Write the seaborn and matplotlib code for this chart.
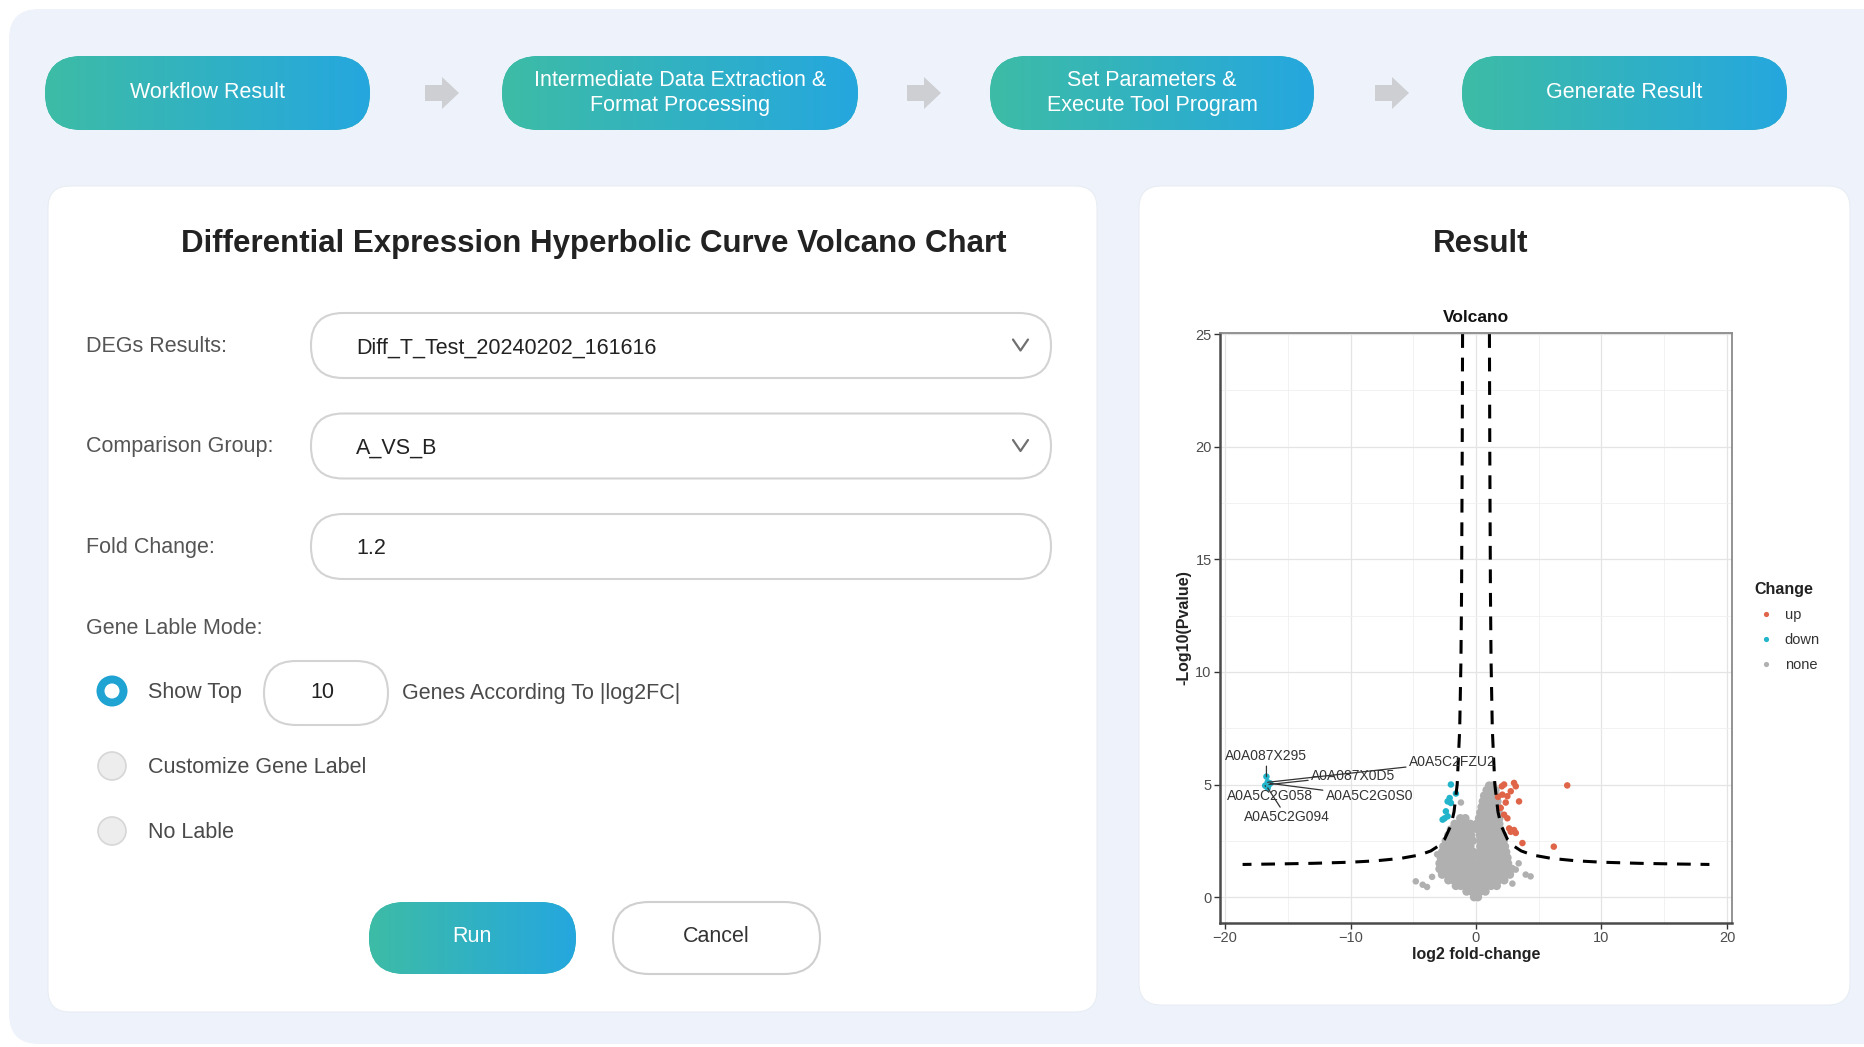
import numpy as np
import pandas as pd
import matplotlib
matplotlib.use("Agg")
import matplotlib.pyplot as plt
from matplotlib.patches import FancyBboxPatch, Circle, Polygon
from matplotlib.colors import LinearSegmentedColormap
import seaborn as sns

W, H = 1865, 1047

# --- Volcano data ---
up_fc = [2.06, 2.24, 3.03, 3.17, 2.77, 2.5, 3.43, 2.37, 1.97, 2.24, 2.5, 2.64, 3.03, 2.77, 3.17, 3.7, 6.2, 7.27, 1.75, 2.1]
up_p = [4.92, 5.0, 5.07, 4.92, 4.7, 4.48, 4.25, 4.2, 3.96, 3.66, 3.5, 3.05, 2.98, 2.9, 2.85, 2.4, 2.24, 4.96, 4.45, 4.55]

down_fc = [-2.0, -1.6, -2.1, -2.26, -2.0, -2.4, -2.5, -2.66, -2.26,
           -16.7, -16.6, -16.5, -16.8, -16.4, -16.6]
down_p = [5.0, 4.6, 4.4, 4.25, 4.18, 3.81, 3.5, 3.44, 3.59,
          5.35, 5.1, 5.0, 4.95, 5.05, 4.85]

# grey cloud, one list of log2FC values per -log10(p) row
none_rows_p = [0.0, 0.25, 0.5, 0.75, 1.0, 1.25, 1.5, 1.75, 2.0, 2.25, 2.5, 2.75,
               3.0, 3.25, 3.5, 3.75, 4.0, 4.25, 4.5, 4.75, 4.95]
none_rows_fc = [
    [-0.15, 0.15],
    [-0.75, -0.35, 0.0, 0.35, 0.75],
    [-1.6, -1.2, -0.8, -0.4, 0.0, 0.4, 0.8, 1.2, 1.65],
    [-2.2, -1.8, -1.35, -0.9, -0.45, 0.0, 0.45, 0.9, 1.35, 1.8, 2.25],
    [-2.7, -2.25, -1.8, -1.35, -0.9, -0.45, 0.0, 0.45, 0.9, 1.35, 1.8, 2.25, 2.7],
    [-2.9, -2.45, -2.0, -1.55, -1.1, -0.65, -0.2, 0.3, 0.75, 1.2, 1.65, 2.1, 2.55, 2.85],
    [-2.9, -2.45, -2.0, -1.55, -1.1, -0.65, -0.25, 0.3, 0.75, 1.2, 1.65, 2.1, 2.55],
    [-2.8, -2.35, -1.9, -1.45, -1.0, -0.55, -0.2, 0.35, 0.8, 1.25, 1.7, 2.1, 2.5],
    [-2.7, -2.25, -1.8, -1.35, -0.9, -0.5, -0.2, 0.35, 0.8, 1.25, 1.7, 2.1, 2.4],
    [-2.6, -2.15, -1.7, -1.25, -0.8, -0.45, 0.35, 0.8, 1.25, 1.7, 2.05, 2.3],
    [-2.4, -1.95, -1.5, -1.05, -0.6, -0.25, 0.35, 0.8, 1.25, 1.7, 2.2],
    [-2.2, -1.75, -1.3, -0.85, -0.4, 0.3, 0.75, 1.2, 1.65, 2.15],
    [-2.0, -1.6, -1.15, -0.7, -0.35, 0.15, 0.6, 1.05, 1.5, 1.95],
    [-1.7, -1.25, -0.8, -0.45, 0.05, 0.5, 0.95, 1.4, 1.85],
    [-1.25, -0.85, 0.25, 0.65, 1.05, 1.45, 1.85],
    [0.35, 0.75, 1.15, 1.55, 1.8],
    [0.45, 0.85, 1.25, 1.6, 1.75],
    [0.55, 0.95, 1.3, 1.7],
    [0.65, 1.0, 1.35, 1.65],
    [0.85, 1.2, 1.55],
    [1.05, 1.35],
]
none_extra_fc = [-4.8, -4.25, -3.9, -3.5, 3.96, 4.35, 3.17, 3.4, -1.2, -0.94, -3.1, 2.9]
none_extra_p = [0.7, 0.55, 0.45, 0.9, 1.0, 0.92, 1.22, 1.5, 4.2, 3.4, 1.9, 0.6]

# hyperbolic threshold curve (right half, mirrored for the left)
curve_fc = [1.07, 1.1, 1.15, 1.2, 1.3, 1.5, 1.75, 2.0, 2.5, 3.0, 3.6, 4.5, 6, 8, 10, 13, 16, 18.6]
curve_p = [25, 19.65, 13.55, 10.5, 7.45, 5.0, 3.79, 3.18, 2.57, 2.27, 2.05, 1.87, 1.72, 1.61, 1.55, 1.5, 1.47, 1.45]

# labelled genes: point and label position
gene_names = ["A0A087X295", "A0A5C2FZU2", "A0A087X0D5", "A0A5C2G058", "A0A5C2G0S0", "A0A5C2G094"]
gene_fc = [-16.7, -16.6, -16.5, -16.8, -16.4, -16.6]
gene_p = [5.35, 5.1, 5.0, 4.95, 5.05, 4.85]
gene_lab_fc = [-16.7, -1.9, -9.8, -16.4, -8.5, -15.1]
gene_lab_p = [6.25, 6.0, 5.4, 4.48, 4.48, 3.56]

# --- UI texts ---
steps = ["Workflow Result", "Intermediate Data Extraction &\nFormat Processing",
         "Set Parameters &\nExecute Tool Program", "Generate Result"]
form_labels = ["DEGs Results:", "Comparison Group:", "Fold Change:"]
form_values = ["Diff_T_Test_20240202_161616", "A_VS_B", "1.2"]
radio_labels = ["Show Top", "Customize Gene Label", "No Lable"]

FONT = ["Liberation Sans", "DejaVu Sans"]
plt.rcParams["font.family"] = FONT

fig = plt.figure(figsize=(W / 100, H / 100), dpi=100)
fig.patch.set_facecolor("white")
bg = fig.add_axes([0, 0, 1, 1])
bg.set_autoscale_on(False)
bg.set_xlim(0, W)
bg.set_ylim(H, 0)
bg.axis("off")

C0, C1 = "#3DBCA6", "#25A7DF"
grad_cmap = LinearSegmentedColormap.from_list("pill", [C0, C1])


def rbox(x0, y0, x1, y1, r, **kw):
    p = FancyBboxPatch((x0 + r, y0 + r), x1 - x0 - 2 * r, y1 - y0 - 2 * r,
                       boxstyle=f"round,pad={r},rounding_size={r}", **kw)
    bg.add_patch(p)
    return p


def grad_box(x0, y0, x1, y1):
    r = (y1 - y0) / 2
    p = rbox(x0, y0, x1, y1, r, facecolor=C0, edgecolor="none", zorder=2)
    g = np.linspace(0, 1, 256).reshape(1, -1)
    im = bg.imshow(g, extent=(x0, x1, y1, y0), cmap=grad_cmap, aspect="auto", zorder=2.1)
    im.set_clip_path(p)


# outer container
rbox(9, 9, W + 60, H - 3, 30, facecolor="#EEF3FB", edgecolor="none", zorder=0)

# workflow pills
pill_x = [(45, 370), (502, 858), (990, 1314), (1462, 1787)]
for (x0, x1), s in zip(pill_x, steps):
    grad_box(x0, 56, x1, 130)
    bg.text((x0 + x1) / 2, 93, s, ha="center", va="center", color="white",
            fontsize=15.5, linespacing=1.25, zorder=3)

for cx in [442, 924, 1392]:
    cy = 93
    pts = [(cx - 17, cy - 8), (cx, cy - 8), (cx, cy - 16), (cx + 17, cy),
           (cx, cy + 16), (cx, cy + 8), (cx - 17, cy + 8)]
    bg.add_patch(Polygon(pts, closed=True, facecolor="#CDCFD2", edgecolor="none", zorder=2))

# cards
rbox(48, 186, 1097, 1012, 22, facecolor="white", edgecolor="#E8EDF4", lw=0.8, zorder=1)
rbox(1139, 186, 1850, 1005, 22, facecolor="white", edgecolor="#E8EDF4", lw=0.8, zorder=1)

bg.text(594, 244, "Differential Expression Hyperbolic Curve Volcano Chart", ha="center",
        va="center", fontsize=22.5, fontweight="bold", color="#222222", zorder=3)
bg.text(1481, 244, "Result", ha="center", va="center", fontsize=22.5,
        fontweight="bold", color="#222222", zorder=3)

# form rows
row_y = [345.5, 446, 546.5]
for i, (lab, val, cy) in enumerate(zip(form_labels, form_values, row_y)):
    bg.text(86, cy + 0.5, lab, ha="left", va="center", fontsize=15.5, color="#555555", zorder=3)
    rbox(311, cy - 32.5, 1051, cy + 32.5, 32, facecolor="white", edgecolor="#D3D3D3", lw=1.5, zorder=2)
    bg.text(356, cy + 2.5, val, ha="left", va="center", fontsize=15.5, color="#222222", zorder=3)
    if i < 2:
        bg.plot([1013, 1020.5, 1028], [cy - 6, cy + 5, cy - 6], color="#707070", lw=1.6,
                solid_capstyle="round", zorder=3)

bg.text(86, 628, "Gene Lable Mode:", ha="left", va="center", fontsize=15.5, color="#555555", zorder=3)

# radio buttons
radio_y = [691, 766, 831]
bg.add_patch(Circle((112, radio_y[0]), 15.5, facecolor="#1FA3D2", edgecolor="none", zorder=2))
bg.add_patch(Circle((112, radio_y[0]), 7.5, facecolor="white", edgecolor="none", zorder=3))
for cy in radio_y[1:]:
    bg.add_patch(Circle((112, cy), 14, facecolor="#EDEDED", edgecolor="#D6D6D6", lw=1.2, zorder=2))
for s, cy in zip(radio_labels, radio_y):
    bg.text(148, cy + 1.5, s, ha="left", va="center", fontsize=15.5, color="#4A4A4A", zorder=3)
rbox(264, 661, 388, 725, 32, facecolor="white", edgecolor="#D3D3D3", lw=1.5, zorder=2)
bg.text(322, 692, "10", ha="center", va="center", fontsize=15.5, color="#222222", zorder=3)
bg.text(402, 693, "Genes According To |log2FC|", ha="left", va="center", fontsize=15.5,
        color="#4A4A4A", zorder=3)

# buttons
grad_box(369, 902, 576, 974)
bg.text(472, 937, "Run", ha="center", va="center", fontsize=15.5, color="white", zorder=3)
rbox(613, 902, 820, 974, 36, facecolor="white", edgecolor="#CFCFCF", lw=1.5, zorder=2)
bg.text(716, 937, "Cancel", ha="center", va="center", fontsize=15.5, color="#333333", zorder=3)

# --- Volcano plot ---
none_fc = [x for row in none_rows_fc for x in row]
none_p = [p for p, row in zip(none_rows_p, none_rows_fc) for _ in row]

df = pd.concat([
    pd.DataFrame({"log2FC": none_fc, "logP": none_p, "change": "none", "sz": 38}),
    pd.DataFrame({"log2FC": none_extra_fc, "logP": none_extra_p, "change": "none", "sz": 22}),
    pd.DataFrame({"log2FC": down_fc, "logP": down_p, "change": "down", "sz": 22}),
    pd.DataFrame({"log2FC": up_fc, "logP": up_p, "change": "up", "sz": 22}),
], ignore_index=True)

pal = {"up": "#DF6448", "down": "#22B4CB", "none": "#B0B0B0"}

ax = fig.add_axes([1220 / W, 1 - 923 / H, 512 / W, 590 / H])
ax.set_facecolor("white")
sns.scatterplot(data=df, x="log2FC", y="logP", hue="change", hue_order=["up", "down", "none"],
                palette=pal, s=22, linewidth=0, ax=ax, zorder=2)
# dense core of the grey cloud drawn with slightly bigger dots
ax.collections[0].set_sizes(df["sz"].to_numpy())

ax.plot(curve_fc, curve_p, ls=(0, (4.5, 3.2)), color="black", lw=2.2, zorder=3)
ax.plot([-v for v in curve_fc], curve_p, ls=(0, (4.5, 3.2)), color="black", lw=2.2, zorder=3)

for name, px, py, lx, ly in zip(gene_names, gene_fc, gene_p, gene_lab_fc, gene_lab_p):
    ax.annotate(name, xy=(px, py), xytext=(lx, ly), ha="center", va="center",
                fontsize=10, color="#333333", zorder=4,
                arrowprops=dict(arrowstyle="-", color="#333333", lw=0.9, shrinkA=0, shrinkB=0))

ax.set_xlim(-20.4, 20.4)
ax.set_ylim(-1.15, 25.05)
ax.set_xticks([-20, -10, 0, 10, 20])
ax.set_yticks([0, 5, 10, 15, 20, 25])
ax.set_xticks([-15, -5, 5, 15], minor=True)
ax.set_yticks([2.5, 7.5, 12.5, 17.5, 22.5], minor=True)
ax.set_axisbelow(True)
ax.grid(which="major", color="#E4E4E4", lw=0.9)
ax.grid(which="minor", color="#F0F0F0", lw=0.6)
ax.tick_params(which="minor", length=0)
ax.tick_params(which="major", length=4, width=1, color="#333333", labelsize=10.5,
               labelcolor="#4D4D4D", pad=2)
for side in ["left", "bottom"]:
    ax.spines[side].set_color("#4A4A4A")
    ax.spines[side].set_linewidth(1.8)
for side in ["top", "right"]:
    ax.spines[side].set_color("#8A8A8A")
    ax.spines[side].set_linewidth(1.3)

ax.set_title("Volcano", fontsize=12.5, fontweight="bold", color="#111111", pad=8)
ax.set_xlabel("log2 fold-change", fontsize=11.5, fontweight="bold", color="#222222")
ax.set_ylabel("-Log10(Pvalue)", fontsize=11.5, fontweight="bold", color="#222222")
ax.xaxis.set_label_coords(0.5, -0.041)
ax.yaxis.set_label_coords(-0.056, 0.5)

sns.move_legend(ax, "upper left", bbox_to_anchor=(1754 / W, 1 - 582 / H),
                bbox_transform=fig.transFigure, frameon=False, title="Change",
                fontsize=10.5, title_fontsize=11.5, handlelength=1.6, handletextpad=0.5,
                labelspacing=0.75, borderpad=0, borderaxespad=0, alignment="left",
                markerscale=0.8)
leg = ax.get_legend()
leg.get_title().set_fontweight("bold")
leg.get_title().set_color("#222222")
for t in leg.get_texts():
    t.set_color("#333333")

fig.savefig("out.png", dpi=100, facecolor=fig.get_facecolor())
